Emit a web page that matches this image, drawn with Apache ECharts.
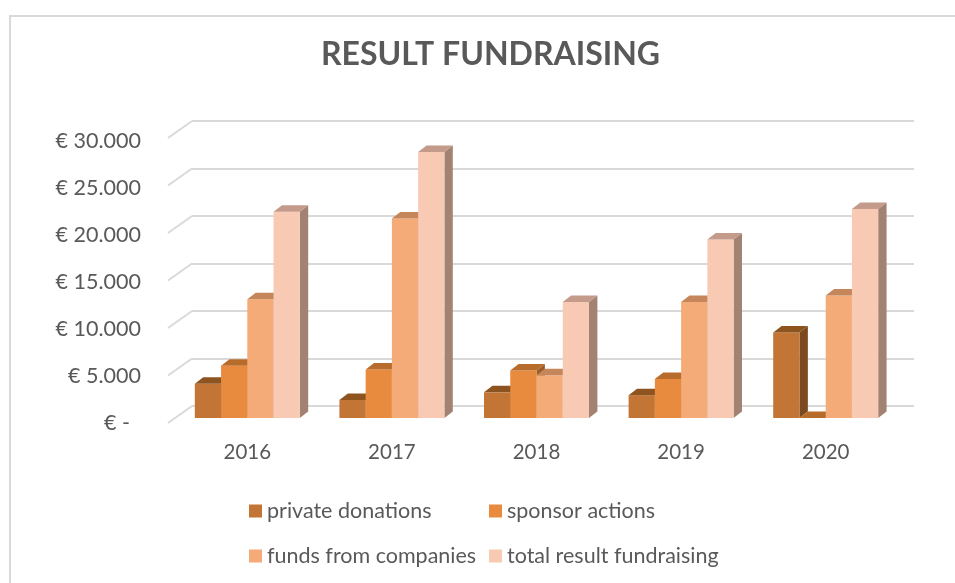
<!DOCTYPE html>
<html>
<head>
<meta charset="utf-8">
<script src="https://cdn.jsdelivr.net/npm/echarts@6/dist/echarts.min.js"></script>
<style>
  html, body { margin: 0; padding: 0; background: #fff; }
  #main { width: 955px; height: 583px; }
</style>
</head>
<body>
<div id="main"></div>
<script>
// 数据
var years = ['2016', '2017', '2018', '2019', '2020'];
var privateDonations = [3600, 1900, 2700, 2400, 9000];
var sponsorActions = [5500, 5100, 5000, 4100, 0];
var fundsCompanies = [12500, 21000, 4500, 12200, 12900];
var totalResult = [21700, 28000, 12200, 18800, 22000];
var yTicks = [0, 5000, 10000, 15000, 20000, 25000, 30000];
var seriesNames = ['private donations', 'sponsor actions', 'funds from companies', 'total result fundraising'];

var FONT = 'Lato';
var TXT = '#595959';
// 正面, 顶面, 侧面
var faceColors = [
    ['#C27534', '#8E5420', '#7C4A20'],
    ['#E88B3E', '#B86C2C', '#9E5C26'],
    ['#F5AB78', '#C4865A', '#A8785A'],
    ['#F9CAB3', '#C49A8A', '#A28272']
];
var DX = 8.4, DY = 6.5;

function fmtEuro(v) {
    if (v === 0) return '{z|€ -}';
    return '€ ' + String(v).replace(/\B(?=(\d{3})+(?!\d))/g, '.');
}

function barSeries(k, values) {
    return {
        name: seriesNames[k],
        type: 'custom',
        xAxisIndex: 2,
        yAxisIndex: 2,
        itemStyle: { color: faceColors[k][0] },
        data: values.map(function (v, i) { return [i, v]; }),
        renderItem: function (params, api) {
            var c = api.coord([api.value(0), api.value(1)]);
            var base = api.coord([api.value(0), 0]);
            var band = api.size([1, 0])[0];
            var groupW = band * 0.726;
            var w = groupW / 4;
            var x0 = c[0] - groupW / 2 + k * w;
            var top = c[1], bot = base[1];
            var col = faceColors[k];
            return {
                type: 'group',
                children: [
                    {
                        type: 'polygon',
                        shape: { points: [[x0 + w, top], [x0 + w + DX, top - DY], [x0 + w + DX, bot - DY], [x0 + w, bot]] },
                        style: { fill: col[2] }
                    },
                    {
                        type: 'rect',
                        shape: { x: x0, y: top, width: w, height: bot - top },
                        style: { fill: col[0] }
                    },
                    {
                        type: 'polygon',
                        shape: { points: [[x0, top], [x0 + DX, top - DY], [x0 + w + DX, top - DY], [x0 + w, top]] },
                        style: { fill: col[1] }
                    }
                ]
            };
        }
    };
}

var myChart = echarts.init(document.getElementById('main'));
var option = {
    backgroundColor: '#fff',
    animation: false,
    title: {
        text: 'RESULT FUNDRAISING',
        left: 316,
        top: 34,
        textStyle: { fontFamily: FONT, fontSize: 32, fontWeight: 'bold', color: TXT }
    },
    graphic: [{
        type: 'rect',
        shape: { x: 10, y: 16, width: 960, height: 600 },
        style: { fill: 'none', stroke: '#d9d9d9', lineWidth: 2 },
        silent: true
    }],
    legend: [
        {
            data: [seriesNames[0], seriesNames[2]],
            orient: 'vertical',
            left: 244, top: 495,
            itemWidth: 13, itemHeight: 13, itemGap: 23,
            icon: 'rect',
            textStyle: { fontFamily: FONT, fontSize: 21.5, color: TXT }
        },
        {
            data: [seriesNames[1], seriesNames[3]],
            orient: 'vertical',
            left: 484, top: 495,
            itemWidth: 13, itemHeight: 13, itemGap: 23,
            icon: 'rect',
            textStyle: { fontFamily: FONT, fontSize: 21.5, color: TXT }
        }
    ],
    grid: [
        { left: 192, right: 41, top: 121, bottom: 177 },   // 后墙
        { left: 168, right: 41, top: 141, bottom: 160 },   // 刻度标签
        { left: 175, right: 57, top: 133, bottom: 165 }    // 柱子
    ],
    xAxis: [
        { gridIndex: 0, type: 'value', min: 0, max: 1, show: false },
        { gridIndex: 1, type: 'value', min: 0, max: 1, show: false },
        {
            gridIndex: 2, type: 'category', data: years,
            axisLine: { show: false }, axisTick: { show: false },
            axisLabel: { fontFamily: FONT, fontSize: 20.5, color: TXT, margin: 24 }
        }
    ],
    yAxis: [
        {
            gridIndex: 0, type: 'value', min: 0, max: 30000, interval: 5000,
            axisLabel: { show: false }, axisLine: { show: false }, axisTick: { show: false },
            splitLine: { lineStyle: { color: '#d9d9d9', width: 2 } }
        },
        {
            gridIndex: 1, type: 'value', min: 0, max: 30000, interval: 5000,
            axisLine: { show: false }, axisTick: { show: false }, splitLine: { show: false },
            axisLabel: {
                fontFamily: FONT, fontSize: 21.5, color: TXT, margin: 27,
                formatter: fmtEuro,
                rich: { z: { fontFamily: FONT, fontSize: 21.5, color: TXT, padding: [0, 11, 0, 0] } }
            }
        },
        { gridIndex: 2, type: 'value', min: 0, max: 30000, show: false }
    ],
    series: [
        {
            // 左侧斜线
            type: 'custom',
            xAxisIndex: 0,
            yAxisIndex: 0,
            silent: true,
            data: yTicks.map(function (v) { return [0, v]; }),
            renderItem: function (params, api) {
                var p = api.coord([0, api.value(1)]);
                return {
                    type: 'line',
                    shape: { x1: p[0] - 24, y1: p[1] + 17, x2: p[0], y2: p[1] },
                    style: { stroke: '#d9d9d9', lineWidth: 2 }
                };
            }
        },
        barSeries(0, privateDonations),
        barSeries(1, sponsorActions),
        barSeries(2, fundsCompanies),
        barSeries(3, totalResult)
    ]
};
myChart.setOption(option);
</script>
</body>
</html>
